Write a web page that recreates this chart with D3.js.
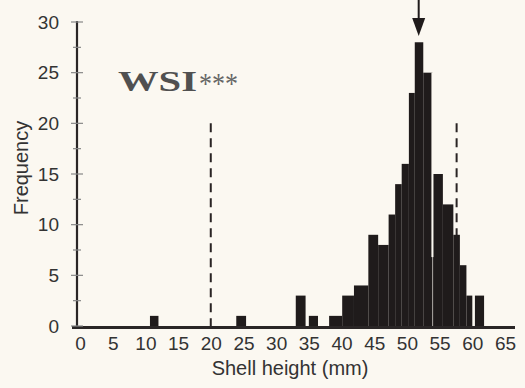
<!DOCTYPE html>
<html>
<head>
<meta charset="utf-8">
<script src="https://cdn.jsdelivr.net/npm/d3@7"></script>
<style>
  body { margin: 0; background: #fbf8f1; }
  svg { display: block; }
</style>
</head>
<body>
<div id="chart"></div>
<script>
// Histogram bars (shell height in mm, frequency)
var bin_lo = [10.7, 23.9, 33.0, 35.0, 38.1, 40.1, 41.9, 44.1, 45.6, 47.2, 48.2, 49.2, 50.3, 51.2, 52.5, 54.0, 55.5, 57.1, 58.1, 59.1, 60.4];
var bin_hi = [12.0, 25.4, 34.5, 36.4, 40.1, 41.9, 44.1, 45.6, 47.2, 48.2, 49.2, 50.3, 51.2, 52.5, 53.9, 55.5, 57.1, 58.1, 59.1, 60.0, 61.8];
var freq   = [1, 1, 3, 1, 1, 3, 4, 9, 8, 11, 14, 16, 23, 28, 25, 15, 12, 9, 6, 3, 3];

// Reference marks
var dashed_x = [20, 57.6];
var dashed_top = 20;
var arrow_x = 51.8;
var gap_x = 53.9, gap_from = 6.8, gap_to = 25;

var x_ticks = d3.range(0, 66, 5);
var y_ticks = d3.range(0, 31, 5);
var y_minor = d3.range(0, 30.1, 2.5);

var W = 525, H = 388;
var ink = "#1f1b1b";
var bg = "#fbf8f1";
var sans = "Liberation Sans, Arial, sans-serif";

var svg = d3.select("#chart").append("svg")
    .attr("width", W)
    .attr("height", H);

svg.append("rect").attr("width", W).attr("height", H).attr("fill", bg);

var x = d3.scaleLinear().domain([0, 65]).range([80, 505]);
var y = d3.scaleLinear().domain([0, 30]).range([326, 22]);

// dashed lines go under the bars
svg.selectAll(".dash")
  .data(dashed_x)
  .enter().append("line")
    .attr("class", "dash")
    .attr("x1", d => x(d)).attr("x2", d => x(d))
    .attr("y1", y(dashed_top)).attr("y2", y(0))
    .attr("stroke", "#2a2424")
    .attr("stroke-width", 2)
    .attr("stroke-dasharray", "9,6");

// bars
svg.selectAll(".bar")
  .data(freq)
  .enter().append("rect")
    .attr("class", "bar")
    .attr("x", (d, i) => x(bin_lo[i]))
    .attr("width", (d, i) => x(bin_hi[i]) - x(bin_lo[i]))
    .attr("y", d => y(d))
    .attr("height", d => y(0) - y(d))
    .attr("fill", ink);

// thin light streak inside the peak
svg.append("line")
    .attr("x1", x(gap_x)).attr("x2", x(gap_x))
    .attr("y1", y(gap_to)).attr("y2", y(gap_from))
    .attr("stroke", bg)
    .attr("stroke-width", 2);

// arrow pointing at the mode
var ax = x(arrow_x);
svg.append("line")
    .attr("x1", ax).attr("x2", ax)
    .attr("y1", 0).attr("y2", 20)
    .attr("stroke", ink).attr("stroke-width", 2);
svg.append("path")
    .attr("d", "M" + (ax - 6.5) + ",18L" + (ax + 6.5) + ",18L" + ax + ",36Z")
    .attr("fill", ink);

// X axis
var xAxis = d3.axisBottom(x).tickValues(x_ticks).tickSize(0).tickPadding(11);
var gx = svg.append("g")
    .attr("transform", "translate(0," + y(0) + ")")
    .call(xAxis);
gx.select(".domain").remove();
gx.selectAll("text")
    .attr("fill", "#333")
    .style("font-family", sans)
    .style("font-size", "19px");

svg.append("line")
    .attr("x1", 72).attr("x2", 515)
    .attr("y1", y(0) + 1.5).attr("y2", y(0) + 1.5)
    .attr("stroke", "#2a2626")
    .attr("stroke-width", 3);

// Y axis
var yAxis = d3.axisLeft(y).tickValues(y_ticks).tickSize(0).tickPadding(18);
var gy = svg.append("g")
    .attr("transform", "translate(77,0)")
    .call(yAxis);
gy.select(".domain").remove();
gy.selectAll("text")
    .attr("fill", "#333")
    .style("font-family", sans)
    .style("font-size", "19px");

svg.append("line")
    .attr("x1", 77).attr("x2", 77)
    .attr("y1", y(30) - 1).attr("y2", y(0) + 2)
    .attr("stroke", "#2a2626")
    .attr("stroke-width", 2.2);

svg.selectAll(".ytick")
  .data(y_minor)
  .enter().append("line")
    .attr("class", "ytick")
    .attr("x1", d => d % 5 === 0 ? 71 : 73)
    .attr("x2", d => d % 5 === 0 ? 83 : 81)
    .attr("y1", d => y(d)).attr("y2", d => y(d))
    .attr("stroke", "#888")
    .attr("stroke-width", 1.2);

// axis titles
svg.append("text")
    .attr("x", 290)
    .attr("y", 375)
    .attr("text-anchor", "middle")
    .attr("fill", "#333")
    .style("font-family", sans)
    .style("font-size", "20px")
    .text("Shell height (mm)");

svg.append("text")
    .attr("transform", "translate(28,168) rotate(-90)")
    .attr("text-anchor", "middle")
    .attr("fill", "#333")
    .style("font-family", sans)
    .style("font-size", "20px")
    .text("Frequency");

// panel label
svg.append("text")
    .attr("x", 118)
    .attr("y", 91)
    .attr("textLength", 79)
    .attr("lengthAdjust", "spacingAndGlyphs")
    .attr("fill", "#505050")
    .style("font-family", "Liberation Serif, Times New Roman, serif")
    .style("font-weight", "bold")
    .style("font-size", "29px")
    .text("WSI");

svg.append("text")
    .attr("x", 199)
    .attr("y", 93)
    .attr("textLength", 39)
    .attr("lengthAdjust", "spacingAndGlyphs")
    .attr("fill", "#666")
    .style("font-family", "Liberation Serif, Times New Roman, serif")
    .style("font-size", "30px")
    .text("***");
</script>
</body>
</html>
